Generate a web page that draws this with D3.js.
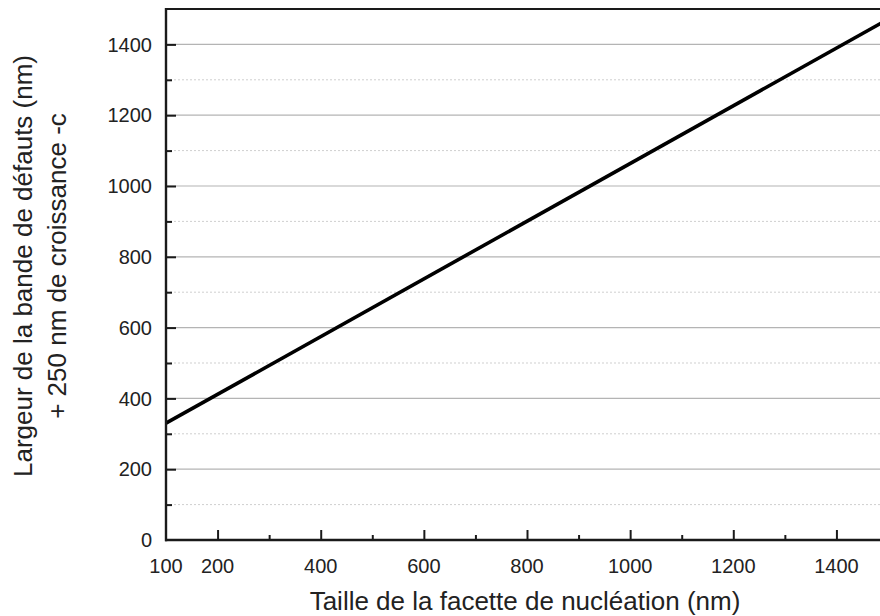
<!DOCTYPE html>
<html>
<head>
<meta charset="utf-8">
<script src="https://cdn.jsdelivr.net/npm/d3@7"></script>
<style>
  html, body { margin: 0; padding: 0; background: #fff; }
  svg { display: block; font-family: "Liberation Sans", Arial, sans-serif; }
</style>
</head>
<body>
<svg id="chart" width="880" height="616"></svg>
<script>
// Facet size (nm) and defect-band width (nm) along the fitted line
const facetSize = [100, 1500];
const bandWidth = [330, 1471];

// Axis ticks
const xMajorTicks = [200, 400, 600, 800, 1000, 1200, 1400];
const xMinorTicks = [300, 500, 700, 900, 1100, 1300, 1500];
const xTickLabels = [100, 200, 400, 600, 800, 1000, 1200, 1400];
const yMajorTicks = [0, 200, 400, 600, 800, 1000, 1200, 1400];
const yMinorTicks = [100, 300, 500, 700, 900, 1100, 1300];

const xTitle = "Taille de la facette de nucléation (nm)";
const yTitleLines = ["Largeur de la bande de défauts (nm)", "+ 250 nm de croissance -c"];

const svg = d3.select("#chart");
const plotLeft = 166, plotRight = 888, plotTop = 9, plotBottom = 540;

const x = d3.scaleLinear().domain([100, 1500]).range([plotLeft, plotRight]);
const y = d3.scaleLinear().domain([0, 1500]).range([plotBottom, plotTop]);

// Horizontal grid: solid at major ticks, dotted at minor ticks
svg.append("g").selectAll("line")
  .data(yMajorTicks.filter(d => d > 0))
  .join("line")
  .attr("x1", plotLeft).attr("x2", plotRight)
  .attr("y1", d => y(d)).attr("y2", d => y(d))
  .attr("stroke", "#b4b4b4").attr("stroke-width", 1.2);

svg.append("g").selectAll("line")
  .data(yMinorTicks)
  .join("line")
  .attr("x1", plotLeft).attr("x2", plotRight)
  .attr("y1", d => y(d)).attr("y2", d => y(d))
  .attr("stroke", "#cfcfcf").attr("stroke-width", 1)
  .attr("stroke-dasharray", "2,2");

// Data line
svg.append("path")
  .datum(facetSize.map((f, i) => [f, bandWidth[i]]))
  .attr("fill", "none")
  .attr("stroke", "#000")
  .attr("stroke-width", 3.6)
  .attr("d", d3.line().x(d => x(d[0])).y(d => y(d[1])));

// Frame: top border
svg.append("line")
  .attr("x1", plotLeft).attr("x2", plotRight)
  .attr("y1", plotTop).attr("y2", plotTop)
  .attr("stroke", "#1a1a1a").attr("stroke-width", 2);

// X axis: ticks pointing inward
const xAxis = svg.append("g").attr("transform", `translate(0,${plotBottom})`);
xAxis.call(d3.axisTop(x).tickValues(xMajorTicks).tickSize(10).tickFormat(""));
xAxis.append("g").call(d3.axisTop(x).tickValues(xMinorTicks).tickSize(5).tickFormat(""));
xAxis.selectAll(".domain").remove();
xAxis.selectAll("line").attr("stroke", "#1a1a1a").attr("stroke-width", 2);
xAxis.append("line")
  .attr("x1", plotLeft - 1).attr("x2", plotRight)
  .attr("stroke", "#1a1a1a").attr("stroke-width", 2.4);
xAxis.append("g").selectAll("text")
  .data(xTickLabels)
  .join("text")
  .attr("x", d => x(d))
  .attr("y", 33)
  .attr("text-anchor", "middle")
  .attr("font-size", 20)
  .attr("fill", "#222")
  .text(d => d);

// Y axis: ticks pointing inward
const yAxis = svg.append("g").attr("transform", `translate(${plotLeft},0)`);
yAxis.call(d3.axisRight(y).tickValues(yMajorTicks.filter(d => d > 0)).tickSize(10).tickFormat(""));
yAxis.append("g").call(d3.axisRight(y).tickValues(yMinorTicks).tickSize(6).tickFormat(""));
yAxis.selectAll(".domain").remove();
yAxis.selectAll("line").attr("stroke", "#1a1a1a").attr("stroke-width", 2);
yAxis.append("line")
  .attr("y1", plotTop - 1).attr("y2", plotBottom + 1.2)
  .attr("stroke", "#1a1a1a").attr("stroke-width", 2.4);
yAxis.append("g").selectAll("text")
  .data(yMajorTicks)
  .join("text")
  .attr("x", -14)
  .attr("y", d => y(d))
  .attr("dy", "0.36em")
  .attr("text-anchor", "end")
  .attr("font-size", 20)
  .attr("fill", "#222")
  .text(d => d);

// Axis titles
svg.append("text")
  .attr("x", (plotLeft + 880) / 2 + 2)
  .attr("y", 610)
  .attr("text-anchor", "middle")
  .attr("font-size", 26)
  .attr("fill", "#222")
  .text(xTitle);

svg.append("g")
  .attr("transform", "translate(0,266) rotate(-90)")
  .selectAll("text")
  .data(yTitleLines)
  .join("text")
  .attr("x", 0)
  .attr("y", (d, i) => 32 + i * 34)
  .attr("text-anchor", "middle")
  .attr("font-size", 26)
  .attr("fill", "#222")
  .text(d => d);
</script>
</body>
</html>
